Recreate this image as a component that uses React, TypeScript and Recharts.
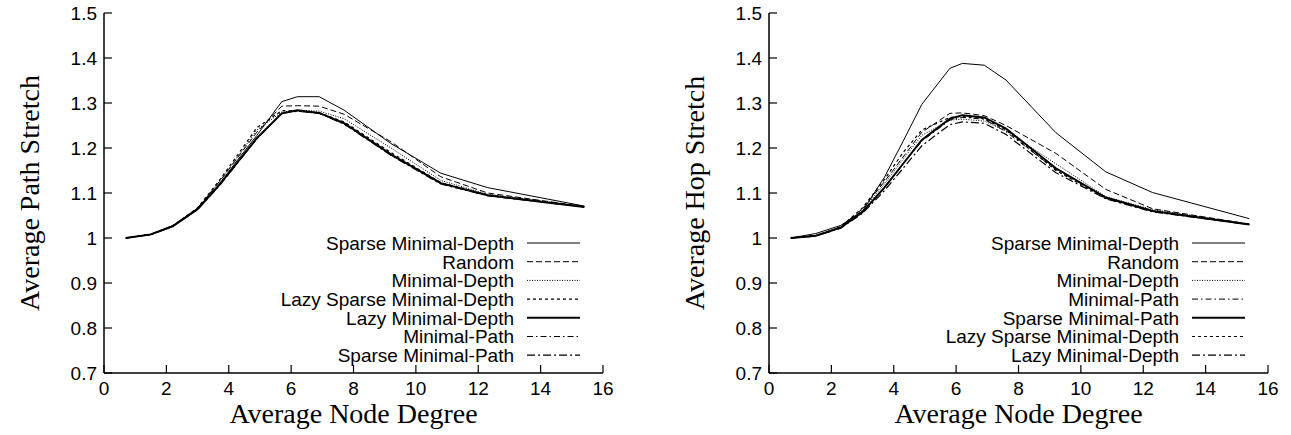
import React from 'react';
import { LineChart, Line, XAxis, YAxis, Label, Legend } from 'recharts';

// x positions (average node degree) of the measured points
const degreePath = [0.7, 1.5, 2.2, 3.0, 3.7, 4.3, 4.9, 5.7, 6.2, 6.9, 7.7, 9.2, 10.8, 12.3, 15.4];
const degreeHop = [0.7, 1.5, 2.3, 3.0, 3.7, 4.3, 4.9, 5.8, 6.2, 6.9, 7.6, 9.2, 10.8, 12.3, 15.4];

// left panel: average path stretch
const pathSparseMinDepth = [1.0, 1.008, 1.027, 1.066, 1.12, 1.175, 1.228, 1.303, 1.314, 1.314, 1.284, 1.21, 1.144, 1.112, 1.071];
const pathRandom = [1.0, 1.008, 1.027, 1.066, 1.125, 1.18, 1.235, 1.293, 1.294, 1.293, 1.275, 1.214, 1.136, 1.1, 1.07];
const pathMinDepth = [1.0, 1.008, 1.027, 1.066, 1.125, 1.182, 1.24, 1.28, 1.284, 1.282, 1.265, 1.2, 1.128, 1.097, 1.07];
const pathLazySparseMinDepth = [1.0, 1.008, 1.027, 1.067, 1.128, 1.186, 1.245, 1.283, 1.282, 1.278, 1.258, 1.19, 1.123, 1.096, 1.07];
const pathLazyMinDepth = [1.0, 1.008, 1.026, 1.064, 1.118, 1.17, 1.222, 1.277, 1.284, 1.278, 1.255, 1.186, 1.122, 1.095, 1.069];
const pathMinPath = [1.0, 1.008, 1.026, 1.064, 1.117, 1.168, 1.22, 1.276, 1.283, 1.277, 1.254, 1.184, 1.121, 1.094, 1.069];
const pathSparseMinPath = [1.0, 1.007, 1.026, 1.063, 1.116, 1.168, 1.22, 1.277, 1.282, 1.277, 1.253, 1.184, 1.12, 1.094, 1.069];

// right panel: average hop stretch
const hopSparseMinDepth = [1.0, 1.01, 1.028, 1.06, 1.135, 1.215, 1.297, 1.377, 1.388, 1.384, 1.351, 1.234, 1.147, 1.101, 1.043];
const hopRandom = [1.0, 1.005, 1.025, 1.065, 1.125, 1.18, 1.235, 1.277, 1.278, 1.272, 1.25, 1.188, 1.108, 1.065, 1.031];
const hopMinDepth = [1.0, 1.005, 1.024, 1.062, 1.12, 1.175, 1.228, 1.262, 1.264, 1.26, 1.238, 1.165, 1.092, 1.063, 1.031];
const hopMinPath = [1.0, 1.005, 1.023, 1.058, 1.112, 1.165, 1.215, 1.262, 1.268, 1.264, 1.236, 1.152, 1.09, 1.06, 1.03];
const hopSparseMinPath = [1.0, 1.005, 1.023, 1.058, 1.112, 1.165, 1.218, 1.265, 1.273, 1.268, 1.243, 1.155, 1.09, 1.06, 1.03];
const hopLazySparseMinDepth = [1.0, 1.005, 1.025, 1.067, 1.13, 1.19, 1.24, 1.268, 1.27, 1.265, 1.24, 1.15, 1.088, 1.06, 1.03];
const hopLazyMinDepth = [1.0, 1.004, 1.022, 1.055, 1.105, 1.155, 1.205, 1.252, 1.258, 1.255, 1.23, 1.145, 1.087, 1.058, 1.03];

const xTicks = [0, 2, 4, 6, 8, 10, 12, 14, 16];
const yTicks = [0.7, 0.8, 0.9, 1, 1.1, 1.2, 1.3, 1.4, 1.5];

const SANS = '"Liberation Sans", Arial, Helvetica, sans-serif';
const SERIF = '"Liberation Serif", "Times New Roman", serif';

// line styles by algorithm
const styles: Record<string, { dash?: string; width: number }> = {
  'Sparse Minimal-Depth': { width: 1 },
  'Random': { dash: '6 3', width: 1 },
  'Minimal-Depth': { dash: '1 1.5', width: 1 },
  'Lazy Sparse Minimal-Depth': { dash: '3 3', width: 1.2 },
  'Lazy Minimal-Depth': { width: 2 },
  'Minimal-Path': { dash: '6 3 1.5 3', width: 1 },
  'Sparse Minimal-Path': { dash: '8 3 2 3', width: 1.2 },
};

type Series = { name: string; values: number[]; style?: string };

const pathSeries: Series[] = [
  { name: 'Sparse Minimal-Depth', values: pathSparseMinDepth },
  { name: 'Random', values: pathRandom },
  { name: 'Minimal-Depth', values: pathMinDepth },
  { name: 'Lazy Sparse Minimal-Depth', values: pathLazySparseMinDepth },
  { name: 'Lazy Minimal-Depth', values: pathLazyMinDepth },
  { name: 'Minimal-Path', values: pathMinPath },
  { name: 'Sparse Minimal-Path', values: pathSparseMinPath },
];

const hopSeries: Series[] = [
  { name: 'Sparse Minimal-Depth', values: hopSparseMinDepth },
  { name: 'Random', values: hopRandom },
  { name: 'Minimal-Depth', values: hopMinDepth },
  { name: 'Minimal-Path', values: hopMinPath },
  { name: 'Sparse Minimal-Path', values: hopSparseMinPath, style: 'Lazy Minimal-Depth' },
  { name: 'Lazy Sparse Minimal-Depth', values: hopLazySparseMinDepth },
  { name: 'Lazy Minimal-Depth', values: hopLazyMinDepth, style: 'Sparse Minimal-Path' },
];

const buildRows = (xs: number[], series: Series[]) =>
  xs.map((x, i) => {
    const row: Record<string, number> = { x };
    series.forEach((s, k) => {
      row['s' + k] = s.values[i];
    });
    return row;
  });

const styleOf = (s: Series) => styles[s.style || s.name];

const FONT = 19;

const LeftTick = ({ x, y, payload }: any) => (
  <g>
    <line x1={x} y1={y} x2={x + 8} y2={y} stroke="#000" strokeWidth={1.2} />
    <text x={x - 7} y={y} dy="0.36em" textAnchor="end" fontSize={FONT} fontFamily={SANS} fill="#000">
      {payload.value}
    </text>
  </g>
);
const RightTick = ({ x, y }: any) => (
  <line x1={x} y1={y} x2={x - 8} y2={y} stroke="#000" strokeWidth={1.2} />
);
const BottomTick = ({ x, y, payload }: any) => (
  <g>
    <line x1={x} y1={y} x2={x} y2={y - 8} stroke="#000" strokeWidth={1.2} />
    <text x={x} y={y + 22} textAnchor="middle" fontSize={FONT} fontFamily={SANS} fill="#000">
      {payload.value}
    </text>
  </g>
);
const TopTick = ({ x, y }: any) => (
  <line x1={x} y1={y} x2={x} y2={y + 8} stroke="#000" strokeWidth={1.2} />
);

// text column ends at TEXT_RIGHT, sample line follows it
const TEXT_RIGHT = 260;
const LegendBox = ({ series }: { series: Series[] }) => (
  <svg width={330} height={135} style={{ display: 'block' }}>
    {series.map((s, i) => {
      const st = styleOf(s);
      const cy = 9 + i * 18.7;
      return (
        <g key={s.name}>
          <text x={TEXT_RIGHT} y={cy} dy="0.36em" textAnchor="end" fontSize={FONT} fontFamily={SANS} fill="#000">
            {s.name}
          </text>
          <line x1={TEXT_RIGHT + 13} y1={cy} x2={TEXT_RIGHT + 66} y2={cy} stroke="#000" strokeWidth={st.width} strokeDasharray={st.dash} />
        </g>
      );
    })}
  </svg>
);

type PanelProps = {
  left: number;
  width: number;
  yTitle: string;
  xs: number[];
  series: Series[];
};

const Panel = ({ left, width, yTitle, xs, series }: PanelProps) => {
  const rows = buildRows(xs, series);
  const axisLine = { stroke: '#000', strokeWidth: 1.5 };
  return (
    <div style={{ position: 'absolute', left, top: 0 }}>
      <LineChart width={width} height={435} data={rows} margin={{ top: 13, right: width - 104 - 499, bottom: 0, left: 0 }}>
        <XAxis
          dataKey="x"
          type="number"
          domain={[0, 16]}
          ticks={xTicks}
          interval={0}
          height={62}
          tickSize={0}
          tickMargin={0}
          axisLine={axisLine}
          tick={<BottomTick />}
        >
          <Label
            content={({ viewBox }: any) => (
              <text
                x={viewBox.x + viewBox.width / 2}
                y={viewBox.y + 50}
                textAnchor="middle"
                fontSize={28}
                fontFamily={SERIF}
                fill="#000"
              >
                Average Node Degree
              </text>
            )}
          />
        </XAxis>
        <XAxis
          xAxisId="top"
          orientation="top"
          dataKey="x"
          type="number"
          domain={[0, 16]}
          ticks={xTicks}
          interval={0}
          height={0}
          tickSize={0}
          tickMargin={0}
          axisLine={axisLine}
          tick={<TopTick />}
        />
        <YAxis
          type="number"
          domain={[0.7, 1.5]}
          ticks={yTicks}
          interval={0}
          width={104}
          tickSize={0}
          tickMargin={0}
          axisLine={axisLine}
          tick={<LeftTick />}
        >
          <Label
            content={({ viewBox }: any) => {
              const cx = viewBox.x + 39;
              const cy = viewBox.y + viewBox.height / 2;
              return (
                <text
                  x={cx}
                  y={cy}
                  transform={`rotate(-90 ${cx} ${cy})`}
                  textAnchor="middle"
                  fontSize={28}
                  fontFamily={SERIF}
                  fill="#000"
                >
                  {yTitle}
                </text>
              );
            }}
          />
        </YAxis>
        <YAxis
          yAxisId="right"
          orientation="right"
          type="number"
          domain={[0.7, 1.5]}
          ticks={yTicks}
          interval={0}
          width={0}
          tickSize={0}
          tickMargin={0}
          axisLine={axisLine}
          tick={<RightTick />}
        />
        {series.map((s, k) => {
          const st = styleOf(s);
          return (
            <Line
              key={s.name}
              type="linear"
              dataKey={'s' + k}
              name={s.name}
              stroke="#000"
              strokeWidth={st.width}
              strokeDasharray={st.dash}
              dot={false}
              activeDot={false}
              isAnimationActive={false}
            />
          );
        })}
        <Legend
          layout="horizontal"
          align="center"
          verticalAlign="middle"
          content={() => <LegendBox series={series} />}
          wrapperStyle={{ position: 'absolute', left: 104 + 410 - TEXT_RIGHT, top: 234, width: 330 }}
        />
      </LineChart>
    </div>
  );
};

export default function App() {
  return (
    <div style={{ position: 'absolute', left: 0, top: 0, width: 1291, height: 435, background: '#fff' }}>
      <Panel left={0} width={640} yTitle="Average Path Stretch" xs={degreePath} series={pathSeries} />
      <Panel left={665} width={626} yTitle="Average Hop Stretch" xs={degreeHop} series={hopSeries} />
    </div>
  );
}
